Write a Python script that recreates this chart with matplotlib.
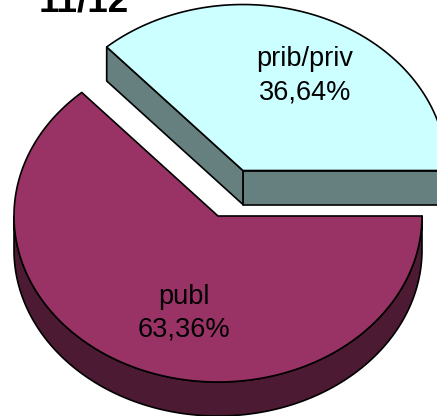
import numpy as np
import matplotlib
matplotlib.use("Agg")
import matplotlib.pyplot as plt
from matplotlib.patches import Polygon

# ---- data ----
labels = ["prib/priv", "publ"]
values = [36.64, 63.36]
pct_text = ["36,64%", "63,36%"]
title = "11/12"

# ---- styles ----
top_colors = ["#ccffff", "#993366"]
side_colors = ["#668080", "#4d1a33"]
explode = [0.30, 0.0]

W, H = 437, 416
fig = plt.figure(figsize=(W / 100, H / 100), dpi=100)
ax = fig.add_axes([0, 0, 1, 1])
ax.set_xlim(-218 / 204, 219 / 204)
ax.set_ylim(-200 / 204, 216 / 204)
ax.set_aspect("auto")
ax.axis("off")

tilt = 166 / 204     # vertical radius / horizontal radius
depth = 34 / 204     # thickness of the pie
lw = 1.2

def pt(cx, cy, t, dz=0.0):
    return (cx + np.cos(t), cy + tilt * np.sin(t) - dz)

total = sum(values)
angles = np.cumsum([0] + values) / total * 2 * np.pi

centers = []
for i in range(len(values)):
    a, b = angles[i], angles[i + 1]
    m = (a + b) / 2
    e = explode[i]
    centers.append((e * np.cos(m), e * tilt * np.sin(m)))

for i in range(len(values)):
    a, b = angles[i], angles[i + 1]
    cx, cy = centers[i]
    # radial side at start edge
    if np.cos(a) > 0:
        p1 = pt(cx, cy, a)
        p2 = pt(cx, cy, a, depth)
        poly = [(cx, cy), p1, p2, (cx, cy - depth)]
        ax.add_patch(Polygon(poly, closed=True, fc=side_colors[i], ec="black", lw=lw, joinstyle="round"))
    # radial side at end edge
    if np.cos(b) < 0:
        p1 = pt(cx, cy, b)
        p2 = pt(cx, cy, b, depth)
        poly = [(cx, cy), p1, p2, (cx, cy - depth)]
        ax.add_patch(Polygon(poly, closed=True, fc=side_colors[i], ec="black", lw=lw, joinstyle="round"))
    # curved outer side (front half only)
    lo, hi = max(a, np.pi), min(b, 2 * np.pi)
    if hi > lo:
        t = np.linspace(lo, hi, 200)
        top = [pt(cx, cy, tt) for tt in t]
        bot = [pt(cx, cy, tt, depth) for tt in t[::-1]]
        ax.add_patch(Polygon(top + bot, closed=True, fc=side_colors[i], ec="black", lw=lw, joinstyle="round"))
    # top face
    t = np.linspace(a, b, 300)
    poly = [(cx, cy)] + [pt(cx, cy, tt) for tt in t]
    ax.add_patch(Polygon(poly, closed=True, fc=top_colors[i], ec="black", lw=lw, joinstyle="round"))

# labels
label_pos = [((305 - 218) / 204, (216 - 76) / 204), ((184 - 218) / 204, (216 - 313) / 204)]
for i in range(len(values)):
    ax.text(label_pos[i][0], label_pos[i][1], f"{labels[i]}\n{pct_text[i]}",
            ha="center", va="center", fontsize=19.5, family="Liberation Sans",
            linespacing=1.35, color="black")

fig.text(84 / W, 1 - 12 / H, title, ha="center", va="baseline", fontsize=26.5,
         fontweight="bold", family="Liberation Sans")

fig.savefig("out.png", dpi=100)
